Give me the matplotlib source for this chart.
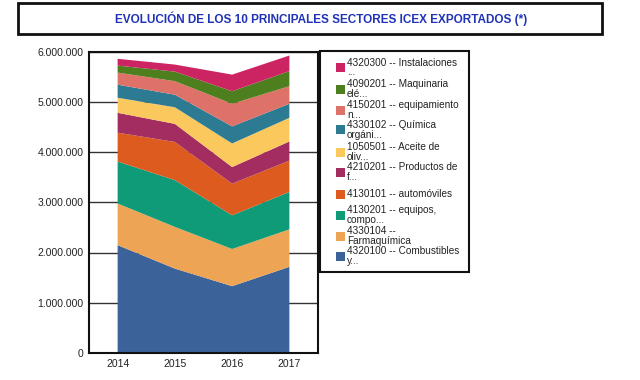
import matplotlib
matplotlib.use("Agg")
import matplotlib.pyplot as plt
from matplotlib.patches import Rectangle
from matplotlib.ticker import FuncFormatter

plt.rcParams['font.family'] = ['Liberation Sans', 'DejaVu Sans']

years = [2014, 2015, 2016, 2017]
labels = [
    "4320100 -- Combustibles\ny...",
    "4330104 --\nFarmaquímica",
    "4130201 -- equipos,\ncompo...",
    "4130101 -- automóviles",
    "4210201 -- Productos de\nf...",
    "1050501 -- Aceite de\noliv...",
    "4330102 -- Química\norgáni...",
    "4150201 -- equipamiento\nn...",
    "4090201 -- Maquinaria\nelé...",
    "4320300 -- Instalaciones\n...",
]
combustibles = [2146000, 1680000, 1330000, 1715000]
farmaquimica = [829000, 830000, 740000, 745000]
equipos = [835000, 930000, 670000, 745000]
automoviles = [575000, 760000, 630000, 625000]
productos = [395000, 360000, 330000, 380000]
aceite = [300000, 330000, 470000, 470000]
quimica = [260000, 250000, 340000, 280000]
equipamiento = [240000, 270000, 450000, 350000]
maquinaria = [140000, 190000, 250000, 300000]
instalaciones = [135000, 140000, 330000, 310000]
series = [combustibles, farmaquimica, equipos, automoviles, productos,
          aceite, quimica, equipamiento, maquinaria, instalaciones]
colors = ["#3C6399", "#EDA455", "#0F9B77", "#DE5B20", "#A32C61",
          "#FBC85E", "#2D7B92", "#DE7168", "#4E7F1E", "#CC2462"]
yticks = [0, 1000000, 2000000, 3000000, 4000000, 5000000, 6000000]
title = "EVOLUCIÓN DE LOS 10 PRINCIPALES SECTORES ICEX EXPORTADOS (*)"

W, H = 640, 380
fig = plt.figure(figsize=(W / 100, H / 100), dpi=100)

def fx(x):
    return x / W

def fy(y):
    return 1 - y / H

# plot area
L, T, R, B = 89, 51.5, 318, 353
ax = fig.add_axes([fx(L), fy(B), fx(R) - fx(L), fy(T) - fy(B)])
ax.stackplot(years, *series, colors=colors, zorder=2)
ax.set_xlim(2013.5, 2017.5)
ax.set_ylim(0, 6000000)
ax.set_xticks(years)
ax.set_yticks(yticks)
ax.yaxis.set_major_formatter(FuncFormatter(lambda v, p: f"{int(v):,}".replace(",", ".")))
ax.grid(axis='y', color='#333333', linewidth=1.0, zorder=0)
ax.set_axisbelow(True)
ax.tick_params(length=0, labelsize=7.5, pad=4, colors='#222222')
for s in ax.spines.values():
    s.set_linewidth(1.5)
    s.set_color('#111111')

# title box
tb = Rectangle((fx(18), fy(34)), fx(602) - fx(18), fy(3) - fy(34),
               transform=fig.transFigure, fill=False, edgecolor='#111111',
               linewidth=2.0)
fig.patches.append(tb)
fig.text(fx(321), fy(19), title, ha='center', va='center', fontsize=8.5,
         fontweight='bold', color='#1F32B8')

# legend box
lb = Rectangle((fx(320), fy(272)), fx(469) - fx(320), fy(51) - fy(272),
               transform=fig.transFigure, fill=False, edgecolor='#111111',
               linewidth=1.5)
fig.patches.append(lb)
centers = [67.5, 89, 110, 130, 152, 172, 194, 215, 236, 256]
for i, c in enumerate(centers):
    idx = len(series) - 1 - i
    sq = Rectangle((fx(335.5), fy(c + 4.5)), fx(9), fy(0) - fy(9),
                   transform=fig.transFigure, facecolor=colors[idx],
                   edgecolor='none')
    fig.patches.append(sq)
    fig.text(fx(347), fy(c), labels[idx], ha='left', va='center',
             fontsize=7.2, linespacing=0.9, color='#222222')

fig.savefig("out.png", dpi=100)
